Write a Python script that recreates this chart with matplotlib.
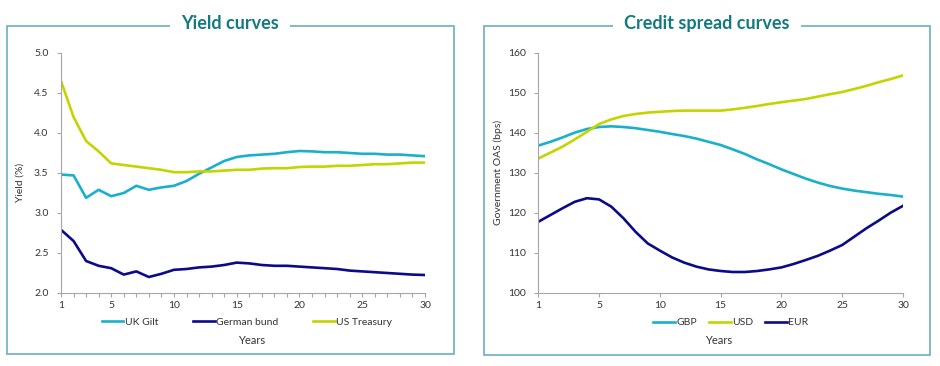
import matplotlib
matplotlib.use("Agg")
import matplotlib.pyplot as plt
from matplotlib.patches import Rectangle

plt.rcParams['font.family'] = ['Lato', 'DejaVu Sans']

# yield curves (%), one value per year 1..30
years = list(range(1, 31))
uk_gilt = [3.48, 3.47, 3.19, 3.29, 3.21, 3.25, 3.34, 3.29, 3.32, 3.34,
           3.40, 3.49, 3.57, 3.65, 3.70, 3.72, 3.73, 3.74, 3.76, 3.775,
           3.77, 3.76, 3.76, 3.75, 3.74, 3.74, 3.73, 3.73, 3.72, 3.71]
german_bund = [2.79, 2.65, 2.40, 2.34, 2.31, 2.23, 2.27, 2.20, 2.24, 2.29,
               2.30, 2.32, 2.33, 2.35, 2.38, 2.37, 2.35, 2.34, 2.34, 2.33,
               2.32, 2.31, 2.30, 2.28, 2.27, 2.26, 2.25, 2.24, 2.23, 2.225]
us_treasury = [4.65, 4.20, 3.90, 3.77, 3.62, 3.60, 3.58, 3.56, 3.54, 3.51,
               3.51, 3.52, 3.52, 3.53, 3.54, 3.54, 3.555, 3.56, 3.56, 3.575,
               3.58, 3.58, 3.59, 3.59, 3.60, 3.61, 3.61, 3.62, 3.63, 3.63]
yield_ticks = [1, 5, 10, 15, 20, 25, 30]

# credit spread curves (bps), positions 0..30 on the axis
oas_pos = list(range(0, 31))
gbp = [136.85, 137.8, 138.9, 140.1, 141.0, 141.5, 141.67, 141.5, 141.2, 140.75,
       140.3, 139.75, 139.25, 138.6, 137.8, 137.0, 135.9, 134.75, 133.4, 132.2,
       130.9, 129.75, 128.6, 127.6, 126.75, 126.1, 125.6, 125.2, 124.8, 124.5, 124.1]
usd = [133.6, 135.1, 136.6, 138.4, 140.3, 142.25, 143.4, 144.25, 144.75, 145.1,
       145.3, 145.5, 145.6, 145.6, 145.6, 145.6, 145.9, 146.3, 146.75, 147.25,
       147.7, 148.1, 148.5, 149.1, 149.7, 150.25, 151.0, 151.8, 152.7, 153.5, 154.4]
eur = [117.8, 119.5, 121.2, 122.8, 123.7, 123.4, 121.6, 118.7, 115.3, 112.4,
       110.6, 108.9, 107.6, 106.6, 105.9, 105.5, 105.25, 105.25, 105.5, 105.9,
       106.4, 107.25, 108.25, 109.3, 110.6, 112.0, 114.1, 116.2, 118.1, 120.1, 121.8]
oas_tick_pos = [0, 5, 10, 15, 20, 25, 30]
oas_tick_labels = ['1', '5', '10', '15', '20', '25', '30']

W, H = 940, 366
CYAN = '#1AB0CB'
NAVY = '#0B0B8A'
LIME = '#C3D400'
TEAL = '#137A80'
FRAME = '#6AAFBF'
GREY = '#333333'


def fx(px):
    return px / W


def fy(py):
    return 1 - py / H


def style_axis(ax):
    for s in ['top', 'right']:
        ax.spines[s].set_visible(False)
    for s in ['left', 'bottom']:
        ax.spines[s].set_color('#A6A6A6')
        ax.spines[s].set_linewidth(0.8)
    ax.tick_params(axis='both', which='both', direction='out', color='#A6A6A6',
                   labelsize=7.5, labelcolor=GREY, length=3, width=0.8)
    ax.tick_params(axis='y', pad=6)
    ax.tick_params(axis='x', pad=3)


fig = plt.figure(figsize=(W / 100, H / 100), dpi=100)

# frames with titles
for x0, x1, y1, title, cx in [(7.5, 453.5, 354, 'Yield curves', 230),
                              (484, 929.5, 355, 'Credit spread curves', 707)]:
    fig.add_artist(Rectangle((fx(x0), fy(y1)), fx(x1 - x0), (y1 - 25.5) / H,
                             transform=fig.transFigure, fill=False,
                             edgecolor=FRAME, linewidth=1.2))
    fig.text(fx(cx), fy(29), title, ha='center', va='baseline', fontsize=13,
             fontweight='bold', color=TEAL,
             bbox=dict(facecolor='white', edgecolor='none', pad=8))

# left: yield curves
ax1 = fig.add_axes([fx(61), fy(293), fx(364), 240 / H])
ax1.plot(years, uk_gilt, color=CYAN, lw=1.9, label='UK Gilt')
ax1.plot(years, german_bund, color=NAVY, lw=1.9, label='German bund')
ax1.plot(years, us_treasury, color=LIME, lw=1.9, label='US Treasury')
ax1.set_xlim(1, 30)
ax1.set_ylim(2.0, 5.0)
ax1.set_xticks(yield_ticks)
ax1.set_xticks(years, minor=True)
ax1.set_yticks([2.0, 2.5, 3.0, 3.5, 4.0, 4.5, 5.0])
ax1.set_yticklabels(['2.0', '2.5', '3.0', '3.5', '4.0', '4.5', '5.0'])
style_axis(ax1)
ax1.legend(loc='center', bbox_to_anchor=(fx(247), fy(322)),
           bbox_transform=fig.transFigure, ncol=3, frameon=False, fontsize=7.5,
           handlelength=2.1, handletextpad=0.15, columnspacing=3.3,
           labelcolor=GREY)
fig.text(fx(252), fy(340), 'Years', ha='center', va='center', fontsize=8, color=GREY)
fig.text(fx(20), fy(182), 'Yield (%)', ha='center', va='center', rotation=90,
         fontsize=7.5, color=GREY)

# right: credit spread curves
ax2 = fig.add_axes([fx(538.3), fy(293), fx(364.7), 240 / H])
ax2.plot(oas_pos, gbp, color=CYAN, lw=1.9, label='GBP')
ax2.plot(oas_pos, usd, color=LIME, lw=1.9, label='USD')
ax2.plot(oas_pos, eur, color=NAVY, lw=1.9, label='EUR')
ax2.set_xlim(0, 30)
ax2.set_ylim(100, 160)
ax2.set_xticks(oas_tick_pos)
ax2.set_xticklabels(oas_tick_labels)
ax2.set_yticks(range(100, 161, 10))
style_axis(ax2)
ax2.legend(loc='center', bbox_to_anchor=(fx(731), fy(322.5)),
           bbox_transform=fig.transFigure, ncol=3, frameon=False, fontsize=7.5,
           handlelength=2.1, handletextpad=0.15, columnspacing=1.1,
           labelcolor=GREY)
fig.text(fx(719), fy(340), 'Years', ha='center', va='center', fontsize=8, color=GREY)
fig.text(fx(498), fy(172), 'Government OAS (bps)', ha='center', va='center',
         rotation=90, fontsize=7.5, color=GREY)

fig.savefig('out.png', dpi=100)
